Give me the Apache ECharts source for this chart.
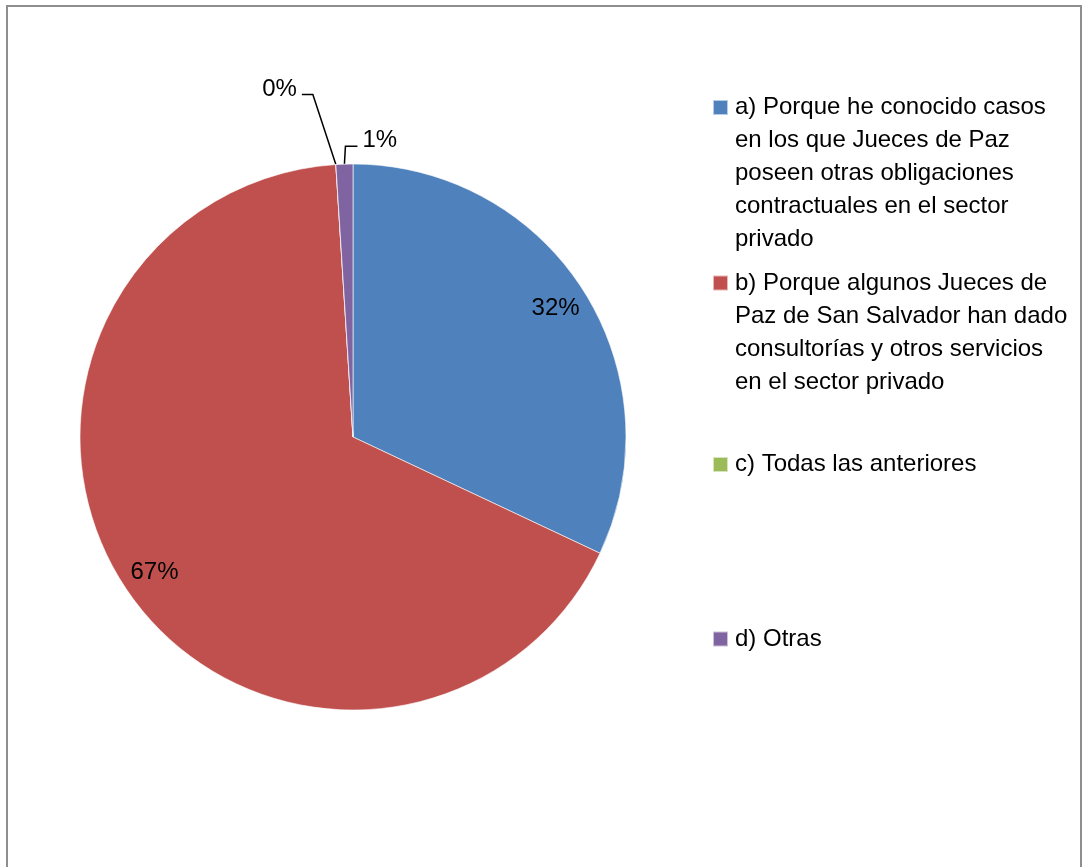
<!DOCTYPE html>
<html>
<head>
<meta charset="utf-8">
<script src="https://cdn.jsdelivr.net/npm/echarts@6/dist/echarts.min.js"></script>
<style>
  html, body { margin: 0; padding: 0; background: #ffffff; }
  #chart { width: 1091px; height: 867px; }
</style>
</head>
<body>
<div id="chart"></div>
<script>
// Survey answers (pie slices), in drawing order
const categories = [
  'a) Porque he conocido casos en los que Jueces de Paz poseen otras obligaciones contractuales en el sector privado',
  'b) Porque algunos Jueces de Paz de San Salvador han dado consultorías y otros servicios en el sector privado',
  'c) Todas las anteriores',
  'd) Otras'
];

// Legend wording, broken into its printed lines
const legendLines = [
  ['a) Porque he conocido casos', 'en los que Jueces de Paz', 'poseen otras obligaciones', 'contractuales en el sector', 'privado'],
  ['b) Porque algunos Jueces de', 'Paz de San Salvador han dado', 'consultorías y otros servicios', 'en el sector privado'],
  ['c) Todas las anteriores'],
  ['d) Otras']
];

// Share of answers, in percent
const shares = [32, 67, 0, 1];

const colors = ['#4F81BD', '#C0504D', '#9BBB59', '#8064A2'];

const FONT = "'Liberation Sans', Arial, sans-serif";
const FONT_SIZE = 24;
const LINE_H = 33;
const CENTER = [353, 437];
const RADIUS = 273;

// Vertical centre of each legend swatch
const legendIconY = [107.5, 283, 464.5, 639];

const pct = p => Math.round(p.percent) + '%';

const legends = categories.map((name, i) => {
  const n = legendLines[i].length;
  const boxH = (2 * n - 1) * LINE_H;
  // blank lines above balance the centred block so its first line sits beside the swatch
  const text = new Array(n - 1).fill(' ').concat(legendLines[i]).join('\n');
  return {
    data: [name],
    orient: 'vertical',
    left: 712,
    top: legendIconY[i] - boxH / 2,
    padding: 0,
    icon: 'rect',
    itemWidth: 15,
    itemHeight: 15,
    formatter: () => text,
    textStyle: {
      fontFamily: FONT,
      fontSize: FONT_SIZE,
      lineHeight: LINE_H,
      color: '#000',
      padding: [0, 0, 0, 2]
    }
  };
});

// Leader lines for the small slices: [bend, end] offsets from the slice edge
const leaders = {
  2: { bend: [-23, -70], end: [-34, -70], label: [-39, -75], align: 'right' },
  3: { bend: [1, -18], end: [13, -18], label: [18, -24], align: 'left' }
};

const option = {
  animation: false,
  backgroundColor: '#ffffff',
  graphic: [{
    type: 'rect',
    silent: true,
    z: -10,
    shape: { x: 7, y: 6, width: 1074, height: 900 },
    style: { fill: null, stroke: '#8E8E8E', lineWidth: 2 }
  }],
  legend: legends,
  series: [
    {
      name: 'Respuestas',
      type: 'pie',
      center: CENTER,
      radius: [0, RADIUS],
      startAngle: 90,
      clockwise: true,
      avoidLabelOverlap: false,
      emphasis: { scale: false },
      itemStyle: { borderColor: 'rgba(255,255,255,0.6)', borderWidth: 1 },
      label: {
        show: true,
        position: 'outside',
        formatter: pct,
        fontFamily: FONT,
        fontSize: FONT_SIZE,
        color: '#000'
      },
      labelLine: {
        show: true,
        length: 10,
        length2: 10,
        smooth: false,
        lineStyle: { color: '#000', width: 1.5 }
      },
      labelLayout: function (params) {
        const cfg = leaders[params.dataIndex];
        if (!cfg || !params.labelLinePoints) return {};
        const p0 = params.labelLinePoints[0];
        return {
          x: p0[0] + cfg.label[0],
          y: p0[1] + cfg.label[1],
          align: cfg.align,
          verticalAlign: 'middle',
          labelLinePoints: [
            [p0[0], p0[1]],
            [p0[0] + cfg.bend[0], p0[1] + cfg.bend[1]],
            [p0[0] + cfg.end[0], p0[1] + cfg.end[1]]
          ]
        };
      },
      data: categories.map((name, i) => ({
        name: name,
        value: shares[i],
        itemStyle: { color: colors[i] },
        label: { show: i >= 2 },
        labelLine: { show: i >= 2 }
      }))
    },
    {
      // transparent ring that carries the in-slice percentages near the rim
      name: 'Etiquetas',
      type: 'pie',
      silent: true,
      center: CENTER,
      radius: [201, RADIUS],
      startAngle: 90,
      clockwise: true,
      avoidLabelOverlap: false,
      itemStyle: { color: 'rgba(0,0,0,0)', borderWidth: 0 },
      label: {
        show: true,
        position: 'inside',
        formatter: pct,
        fontFamily: FONT,
        fontSize: FONT_SIZE,
        color: '#000',
        padding: [10, 0, 0, 0]
      },
      labelLine: { show: false },
      data: categories.map((name, i) => ({
        name: name,
        value: shares[i],
        label: { show: i < 2 }
      }))
    }
  ]
};

const chart = echarts.init(document.getElementById('chart'), null, { renderer: 'canvas' });
chart.setOption(option);
</script>
</body>
</html>
